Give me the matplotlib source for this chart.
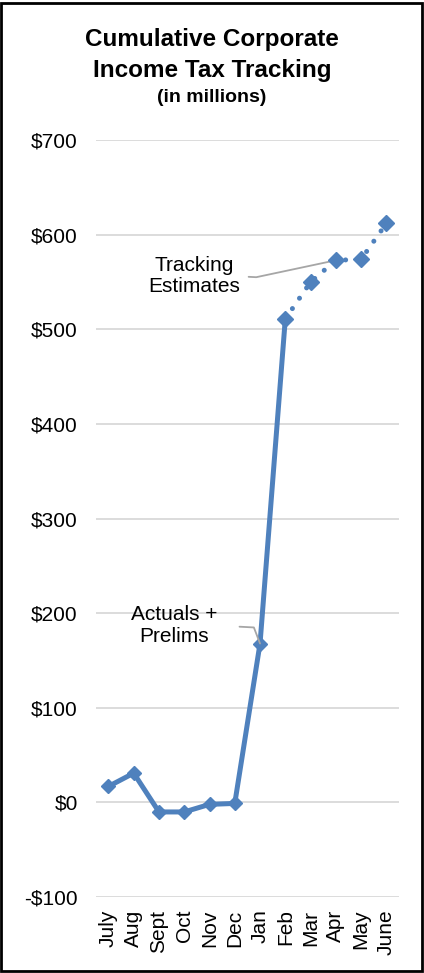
import matplotlib.pyplot as plt
from matplotlib.patches import Rectangle

plt.rcParams['font.family'] = ['Liberation Sans', 'DejaVu Sans']

months = ["July", "Aug", "Sept", "Oct", "Nov", "Dec", "Jan", "Feb", "Mar", "Apr", "May", "June"]
actuals = [17, 31, -10, -10, -2, -1, 168, 511]
estimates = [511, 550, 573, 574, 612]
yticks = [-100, 0, 100, 200, 300, 400, 500, 600, 700]
ylabels = ["-$100", "$0", "$100", "$200", "$300", "$400", "$500", "$600", "$700"]

blue = "#4f81bd"

fig = plt.figure(figsize=(4.24, 9.73), dpi=100)
ax = fig.add_axes([0.226, 0.078, 0.715, 0.778])

xa = list(range(len(actuals)))
xe = list(range(len(actuals) - 1, len(months)))

ax.plot(xa, actuals, color=blue, lw=3.6, marker="D", ms=7, solid_joinstyle="round", zorder=3)
ax.plot(xe, estimates, color=blue, lw=3.6, linestyle=(0, (0.01, 2.5)), dash_capstyle="round", zorder=3)
ax.plot(xe, estimates, color=blue, lw=0, marker="D", ms=8, zorder=4)

ax.set_xlim(-0.5, 11.5)
ax.set_ylim(-100, 700)
ax.set_yticks(yticks)
ax.set_yticklabels(ylabels, fontsize=15)
ax.set_xticks(range(len(months)))
ax.set_xticklabels(months, rotation=90, fontsize=15)
ax.tick_params(axis="y", length=0, pad=13)
ax.tick_params(axis="x", length=0, pad=9)
ax.grid(axis="y", color="#d9d9d9", lw=1.3)
ax.set_axisbelow(True)
for s in ax.spines.values():
    s.set_visible(False)

# annotations
ax.annotate("Tracking\nEstimates", xy=(9, 573), xytext=(3.4, 556),
            fontsize=15, ha="center", va="center", linespacing=1.15,
            arrowprops=dict(arrowstyle="-", color="#a6a6a6", lw=1.3,
                            shrinkA=4, shrinkB=0, relpos=(1.0, 0.5),
                            connectionstyle="angle,angleA=-3,angleB=12,rad=0"))
ax.annotate("Actuals +\nPrelims", xy=(6, 168), xytext=(2.6, 187),
            fontsize=15, ha="center", va="center", linespacing=1.15,
            arrowprops=dict(arrowstyle="-", color="#a6a6a6", lw=1.3,
                            shrinkA=14, shrinkB=0, relpos=(1.0, 0.5),
                            connectionstyle="angle,angleA=-3,angleB=111,rad=0"))

fig.text(0.5, 0.959, "Cumulative Corporate", ha="center", va="center",
         fontsize=17.5, fontweight="bold")
fig.text(0.5, 0.928, "Income Tax Tracking", ha="center", va="center",
         fontsize=17.5, fontweight="bold")
fig.text(0.5, 0.900, "(in millions)", ha="center", va="center", fontsize=14, fontweight="bold")

fig.patches.append(Rectangle((0.003, 0.002), 0.992, 0.995, transform=fig.transFigure,
                             fill=False, edgecolor="black", lw=2))

fig.savefig("out.png", dpi=100)
